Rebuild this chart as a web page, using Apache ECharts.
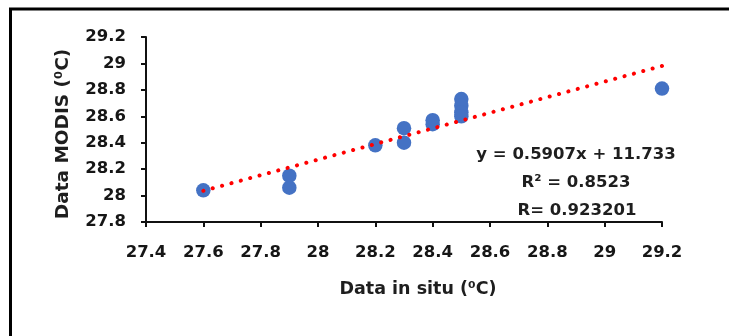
<!DOCTYPE html>
<html><head><meta charset="utf-8">
<script src="https://cdn.jsdelivr.net/npm/echarts@6/dist/echarts.min.js"></script>
<style>html,body{margin:0;padding:0;background:#fff}#c{width:729px;height:336px}</style>
</head><body><div id="c"></div>
<script>
const inSitu = [27.6, 27.9, 27.9, 28.2, 28.3, 28.3, 28.4, 28.4, 28.5, 28.5, 28.5, 28.5, 29.2];
const modis  = [28.04, 28.15, 28.06, 28.38, 28.51, 28.40, 28.57, 28.54, 28.73, 28.68, 28.63, 28.60, 28.81];
const trendX = [27.6, 29.2];
const trendY = [28.036, 28.981];
const xTicks = [27.4, 27.6, 27.8, 28, 28.2, 28.4, 28.6, 28.8, 29, 29.2];
const yTicks = [27.8, 28, 28.2, 28.4, 28.6, 28.8, 29, 29.2];
const eqLines = ['y = 0.5907x + 11.733', 'R² = 0.8523', 'R= 0.923201'];
const xTitle = 'Data in situ (⁰C)';
const yTitle = 'Data MODIS (⁰C)';

const FONT = '"DejaVu Sans", sans-serif';
const chart = echarts.init(document.getElementById('c'), null, {renderer: 'canvas'});
const axisCommon = {
  axisLine: {show: true, lineStyle: {color: '#111', width: 2}},
  axisTick: {show: true, length: 5, lineStyle: {color: '#111', width: 2}},
  splitLine: {show: false},
  axisLabel: {color: '#161616', fontFamily: FONT, fontWeight: 'bold', fontSize: 16.5}
};
chart.setOption({
  animation: false,
  grid: {left: 146, top: 37, right: 67, bottom: 114, containLabel: false},
  xAxis: Object.assign({}, axisCommon, {
    type: 'value', min: xTicks[0], max: xTicks[xTicks.length - 1], interval: 0.2,
    axisLabel: Object.assign({}, axisCommon.axisLabel, {margin: 22, formatter: v => String(+v.toFixed(1))}),
    name: xTitle, nameLocation: 'middle', nameGap: 58,
    nameTextStyle: {color: '#1e1e1e', fontFamily: FONT, fontWeight: 'bold', fontSize: 17.5, padding: [0, 0, 0, 28]}
  }),
  yAxis: Object.assign({}, axisCommon, {
    type: 'value', min: yTicks[0], max: yTicks[yTicks.length - 1], interval: 0.2,
    axisLabel: Object.assign({}, axisCommon.axisLabel, {margin: 20, formatter: v => String(+v.toFixed(1))}),
    name: yTitle, nameLocation: 'middle', nameGap: 73, nameRotate: 90,
    nameTextStyle: {color: '#1e1e1e', fontFamily: FONT, fontWeight: 'bold', fontSize: 18.5, padding: [0, 9, 0, 0]}
  }),
  series: [
    {
      type: 'scatter', symbol: 'circle', symbolSize: 14.5,
      itemStyle: {color: '#4472c4', opacity: 1},
      data: inSitu.map((x, i) => [x, modis[i]]), z: 2
    },
    {
      type: 'line', showSymbol: false, symbol: 'none',
      lineStyle: {color: '#ff0000', width: 4, type: [0.1, 9.6], cap: 'round'},
      data: trendX.map((x, i) => [x, trendY[i]]), z: 3
    }
  ],
  graphic: [
    {type: 'rect', left: 8, top: 6.5, shape: {x: 0, y: 0, width: 760, height: 400},
     style: {fill: 'none', stroke: '#000', lineWidth: 3}, silent: true},
    {type: 'text', x: 576, y: 155, style: {text: eqLines[0], fill: '#1e1e1e', font: 'bold 16.5px ' + FONT, align: 'center', verticalAlign: 'middle'}},
    {type: 'text', x: 576, y: 183, style: {text: eqLines[1], fill: '#1e1e1e', font: 'bold 16.5px ' + FONT, align: 'center', verticalAlign: 'middle'}},
    {type: 'text', x: 577, y: 211, style: {text: eqLines[2], fill: '#1e1e1e', font: 'bold 16.5px ' + FONT, align: 'center', verticalAlign: 'middle'}}
  ]
});
</script></body></html>
